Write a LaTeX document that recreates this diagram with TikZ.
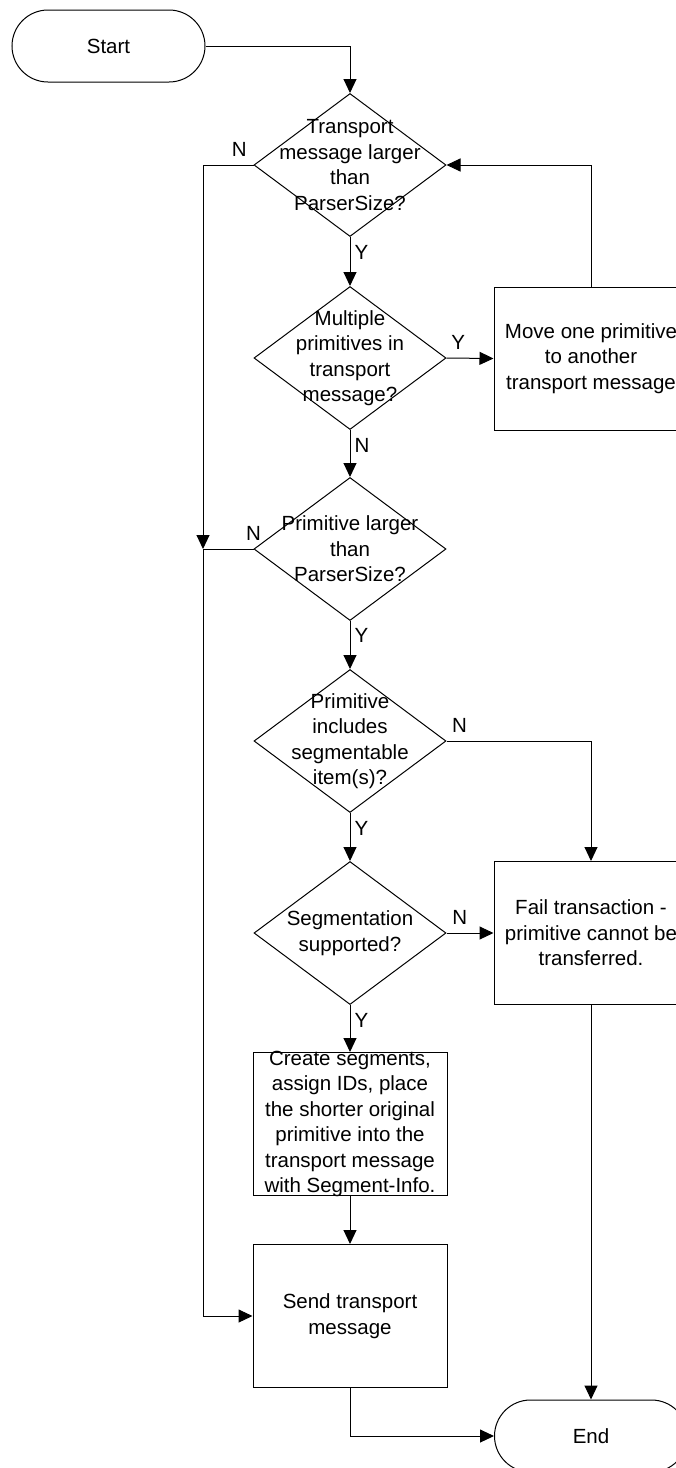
\documentclass[tikz,border=0pt]{standalone}
\usepackage{fontspec}
\setmainfont{Liberation Sans}
\usetikzlibrary{shapes.geometric,arrows.meta}

\begin{document}
\begin{tikzpicture}[x=1pt,y=-1pt,line width=1pt,
  font=\fontsize{20.5}{25.5}\selectfont,
  >={Triangle[length=14pt,width=13pt]},
  terminal/.style={draw,rectangle,rounded corners=36pt,minimum width=193pt,minimum height=72pt,inner sep=2pt},
  decision/.style={draw,diamond,minimum width=192pt,minimum height=143pt,inner sep=0pt},
  process/.style={draw,rectangle,minimum width=194pt,minimum height=143pt,inner sep=2pt,align=center},
  txt/.style={align=center,inner sep=0pt},
  lblright/.style={inner sep=2pt,right=2pt},
  lblabove/.style={inner sep=2pt,above=6pt}]
  \clip (0,0) rectangle (676,1468);

  \node[terminal] (start) at (108.5,46) {Start};
  \node[decision] (qsize) at (350,165) {};
  \node[txt] (qsize-t) at (qsize) {Transport\\message larger\\than\\ParserSize?};
  \node[decision] (qmulti) at (350,358) {};
  \node[txt] (qmulti-t) at (qmulti) {Multiple\\primitives in\\transport\\message?};
  \node[process] (move) at (591,358.5) {Move one primitive\\to another\\transport message};
  \node[decision] (qprim) at (350,549) {};
  \node[txt] (qprim-t) at (qprim) {Primitive larger\\than\\ParserSize?};
  \node[decision] (qsegm) at (350,741) {};
  \node[txt] (qsegm-t) at (qsegm) {Primitive\\includes\\segmentable\\item(s)?};
  \node[decision] (qsupp) at (350,933) {};
  \node[txt] (qsupp-t) at (qsupp) {Segmentation\\supported?};
  \node[process] (fail) at (591,933) {Fail transaction -\\primitive cannot be\\transferred.};
  \node[process] (create) at (350,1124) {};
  \node[txt] (create-t) at (create) {Create segments,\\assign IDs, place\\the shorter original\\primitive into the\\transport message\\with Segment-Info.};
  \node[process] (send) at (350,1316) {Send transport\\message};
  \node[terminal] (stop) at (591,1436) {End};
  \coordinate (jn) at (203,549);

  \draw[->] (start.east) -| (qsize.north);
  \draw[->] (qsize.west) -| node[lblabove,pos=0.14]{N} (jn);
  \draw (qprim.west) -- node[lblabove,pos=0]{N} (jn);
  \draw[->] (jn) |- (send.west);
  \draw[->] (qsize.south) -- node[lblright,pos=0.32]{Y} (qmulti.north);
  \draw[->] (qmulti.east) -- node[lblabove,pos=0.25]{Y} (move.west);
  \draw[->] (move.north) |- (qsize.east);
  \draw[->] (qmulti.south) -- node[lblright,pos=0.33]{N} (qprim.north);
  \draw[->] (qprim.south) -- node[lblright,pos=0.3]{Y} (qsegm.north);
  \draw[->] (qsegm.east) -| node[lblabove,pos=0.045]{N} (fail.north);
  \draw[->] (qsegm.south) -- node[lblright,pos=0.33]{Y} (qsupp.north);
  \draw[->] (qsupp.east) -- node[lblabove,pos=0.28]{N} (fail.west);
  \draw[->] (qsupp.south) -- node[lblright,pos=0.33]{Y} (create.north);
  \draw[->] (create.south) -- (send.north);
  \draw[->] (fail.south) -- (stop.north);
  \draw[->] (send.south) |- (stop.west);
\end{tikzpicture}
\end{document}
